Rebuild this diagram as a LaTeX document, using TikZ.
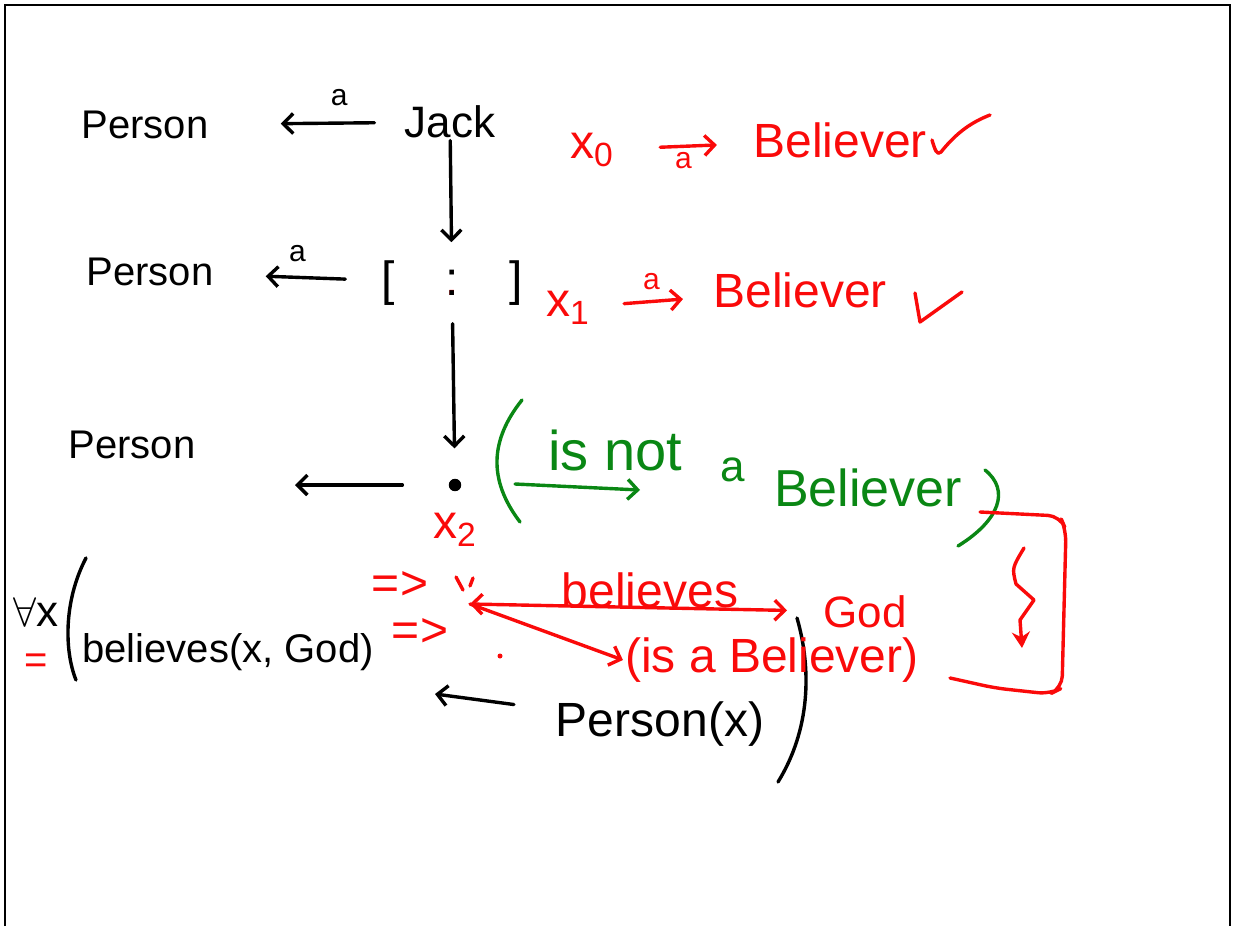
\documentclass[tikz,border=0pt]{standalone}
\usepackage{fontspec}
\setmainfont{Liberation Sans}
\usetikzlibrary{arrows.meta,positioning}
\definecolor{inkred}{RGB}{250,10,10}
\definecolor{inkgreen}{RGB}{10,135,20}

\begin{document}
\begin{tikzpicture}[
  x=0.5pt, y=-0.5pt,
  >={Straight Barb[length=5pt,width=10pt]},
  ink/.style={line width=1.7pt, line cap=round, line join=round},
  word/.style={inner sep=1pt, font=\fontsize{20}{24}\selectfont},
  bigword/.style={word, font=\fontsize{24}{28}\selectfont},
  redword/.style={bigword, text=inkred},
  greenword/.style={bigword, text=inkgreen},
  lbl/.style={inner sep=2pt, font=\fontsize{15}{18}\selectfont},
  arrow/.style={ink, ->},
  redarrow/.style={arrow, inkred},
  greenarrow/.style={arrow, inkgreen}
]
\useasboundingbox (0,0) rectangle (1236,926);
\draw[line width=1pt] (5,926) -- (5,5) -- (1230,5) -- (1230,926);

% black: the three rows
\node[word] (top) at (145,125) {Person};
\node[word, font=\fontsize{22}{26}\selectfont] (jack) at (450,122) {Jack};
\node[word] (mid) at (150,272) {Person};
\node[bigword] (blank) at (452,283)
  {[\hspace{1.05em}\rlap{\color{inkred}.}:\hspace{1.05em}]};
\node[word] (low) at (132,445) {Person};
\node[circle, fill, inner sep=2.2pt] (xdot) at (455,485) {};
\coordinate (lowend) at (295,485);

\draw[arrow, shorten <=14pt, shorten >=35pt] (jack) -- node[lbl, above, pos=0.33, yshift=6pt] {a} (top);
\draw[arrow, shorten >=8pt] (jack) -- (blank);
\draw[arrow, shorten <=17pt, shorten >=25pt] (blank) -- node[lbl, above, pos=0.5, yshift=5pt] {a} (mid);
\draw[arrow, shorten <=8pt, shorten >=15pt] (blank) -- (xdot);
\draw[arrow, shorten <=23pt] (xdot) -- (lowend);

% black: the formula
\node[word, font=\fontsize{22}{26}\selectfont] (forall) at (36,612) {$\forall$x};
\draw[ink] (86,558) .. controls (64,600) and (64,650) .. (76,680);
\node[word, anchor=west] (bel) at (80,652) {believes(x, God)};
\node[bigword] (px) at (660,724) {Person(x)};
\coordinate (belend) at (435,694);
\draw[arrow, shorten <=20pt] (px) -- (belend);
\draw[ink] (797,618) .. controls (812,670) and (810,730) .. (778,782);

% red: the cases
\node[redword] (x0) at (592,150) {x\textsubscript{0}};
\node[redword] (bel0) at (840,140) {Believer};
\draw[redarrow, shorten <=22pt, shorten >=17pt] (x0) -- node[lbl, below, text=inkred] {a} (bel0);
\draw[ink, inkred] (932,140) .. controls (935,150) and (937,156) .. (941,152)
  .. controls (957,132) and (972,122) .. (990,115);

\node[redword] (x1) at (568,308) {x\textsubscript{1}};
\node[redword] (bel1) at (800,290) {Believer};
\draw[redarrow, shorten <=16pt, shorten >=14pt] (x1) -- node[lbl, above, text=inkred, yshift=3pt] {a} (bel1);
\draw[ink, inkred] (915,293) -- (920,322) -- (962,292);

\node[redword] (x2) at (455,530) {x\textsubscript{2}};
\node[redword] (imp1) at (400,585) {=>};
\node[redword] (imp2) at (420,632) {=>};
\node[word, text=inkred] (eq) at (36,664) {=};
\draw[ink, inkred] (456,577) -- (463,590) (473,578) -- (470,586);
\fill[inkred] (500,656) circle (2.5);

\coordinate (start) at (470,604);
\node[redword] (belv) at (650,590) {believes};
\node[redword, font=\fontsize{22}{26}\selectfont] (god) at (865,612) {God};
\node[redword] (isa) at (772,660) {(is a Believer)};
\draw[redarrow, <->, shorten >=17pt] (start) -- (god);
\draw[redarrow] (start) -- (isa.west);

% green: the assumption
\draw[ink, inkgreen] (522,400) .. controls (490,440) and (488,480) .. (520,522);
\node[greenword, font=\fontsize{28}{32}\selectfont] (isnot) at (615,450) {is not};
\node[greenword, font=\fontsize{22}{26}\selectfont] (ga) at (733,470) {a};
\node[greenword, font=\fontsize{26}{30}\selectfont] (gbel) at (868,488) {Believer};
\draw[ink, inkgreen] (985,470) .. controls (1010,490) and (1000,520) .. (958,546);
\coordinate (gs) at (515,484);
\coordinate (ge) at (640,490);
\draw[greenarrow] (gs) -- (ge);

% red: contradiction
\draw[ink, inkred, rounded corners=6pt] (980,512) -- (1060,516) -- (1066,530)
  -- (1062,688) -- (1050,694) -- (995,688) -- (950,678);
\draw[ink, inkred, -{Stealth[length=8pt,width=9pt]}] (1024,548)
  .. controls (1012,568) .. (1016,584) -- (1034,600) -- (1020,620) -- (1022,648);
\end{tikzpicture}
\end{document}
